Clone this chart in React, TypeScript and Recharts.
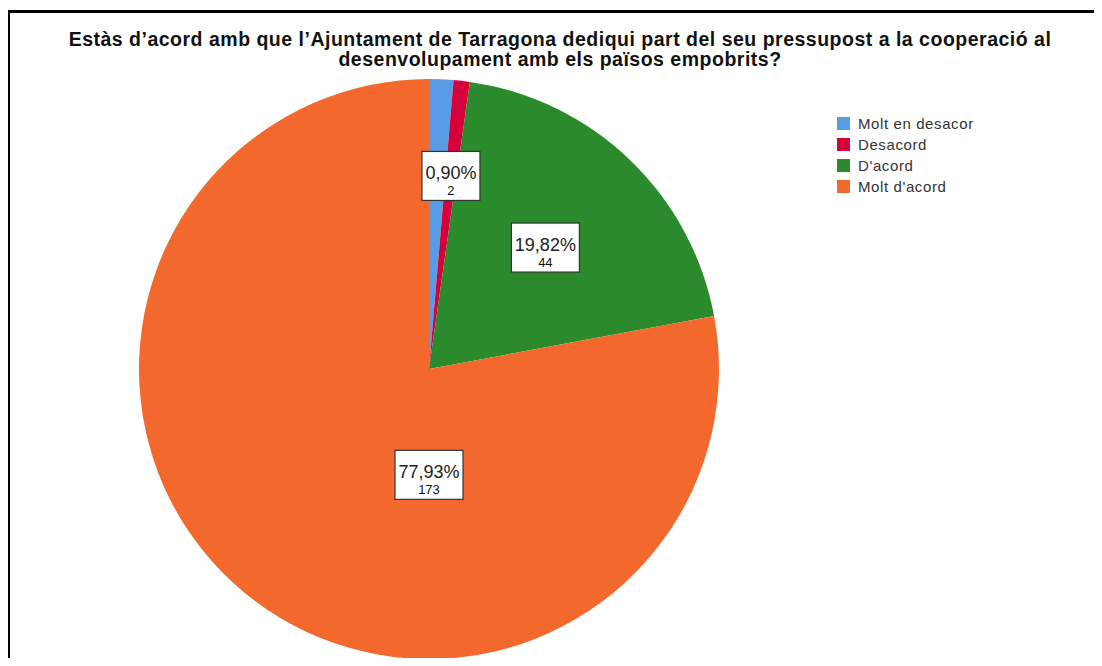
import { PieChart, Pie, Cell, Legend } from 'recharts'

const categories = ['Molt en desacor', 'Desacord', "D'acord", "Molt d'acord"]
const counts = [3, 2, 44, 173]
const colors = ['#5a9be6', '#d6003b', '#2b8a2b', '#f3692d']

const title1 = 'Estàs d’acord amb que l’Ajuntament de Tarragona dediqui part del seu pressupost a la cooperació al'
const title2 = 'desenvolupament amb els països empobrits?'

const total = counts.reduce((a, b) => a + b, 0)
const pieData = categories.map((name, i) => ({ name, value: counts[i] }))

// label placement: fraction of radius, optional fixed angle (the big slice sits below centre)
const labelSpots: { r: number; angle?: number; show: boolean }[] = [
  { r: 0.67, show: false },
  { r: 0.67, show: true },
  { r: 0.58, show: true },
  { r: 0.365, angle: -90, show: true },
]

const RAD = Math.PI / 180
const font = '"Liberation Sans", Arial, sans-serif'

const renderLabel = (props: any) => {
  const { cx, cy, midAngle, outerRadius, index, value } = props
  const spot = labelSpots[index]
  if (!spot || !spot.show) return null
  const ang = spot.angle ?? midAngle
  const r = outerRadius * spot.r
  const x = cx + r * Math.cos(-ang * RAD)
  const y = cy + r * Math.sin(-ang * RAD)
  const pct = ((value / total) * 100).toFixed(2).replace('.', ',') + '%'
  const w = pct.length * 10 + 8
  const h = 49
  return (
    <g>
      <rect x={x - w / 2} y={y - h / 2} width={w} height={h} fill="#fff" stroke="#333" strokeWidth={1.2} />
      <text x={x} y={y + 3} textAnchor="middle" fontSize={18} fill="#222" fontFamily={font}>{pct}</text>
      <text x={x} y={y + 19} textAnchor="middle" fontSize={13} fill="#111" fontFamily={font}>{value}</text>
    </g>
  )
}

const renderLegend = () => (
  <div style={{ fontFamily: font, fontSize: 15, letterSpacing: 0.6, color: '#333' }}>
    {categories.map((c, i) => (
      <div key={c} style={{ display: 'flex', alignItems: 'center', height: 21 }}>
        <span style={{ display: 'inline-block', width: 13, height: 13, background: colors[i], marginRight: 8 }} />
        <span>{c}</span>
      </div>
    ))}
  </div>
)

export default function App() {
  return (
    <div style={{ position: 'relative', margin: -8, width: 1102, height: 666, overflow: 'hidden', background: '#fff' }}>
      <div style={{ position: 'absolute', left: 7, top: 10, width: 1120, height: 700, border: '3px solid #000', boxSizing: 'border-box' }} />
      <div style={{ position: 'absolute', left: 20, top: 29, width: 1080, textAlign: 'center', fontFamily: font, fontWeight: 'bold', fontSize: 19.5, letterSpacing: 0.5, lineHeight: '20px', color: '#111' }}>
        <div>{title1}</div>
        <div>{title2}</div>
      </div>
      <div style={{ position: 'absolute', left: 0, top: 0 }}>
        <PieChart width={1102} height={666} margin={{ top: 0, right: 0, bottom: 0, left: 0 }}>
          <Pie
            data={pieData}
            dataKey="value"
            nameKey="name"
            cx={429}
            cy={369}
            outerRadius={290}
            startAngle={90}
            endAngle={-270}
            stroke="none"
            labelLine={false}
            label={renderLabel}
            isAnimationActive={false}
          >
            {pieData.map((d, i) => (
              <Cell key={d.name} fill={colors[i]} />
            ))}
          </Pie>
          <Legend content={renderLegend} wrapperStyle={{ position: 'absolute', left: 837, top: 113, width: 200 }} />
        </PieChart>
      </div>
    </div>
  )
}
